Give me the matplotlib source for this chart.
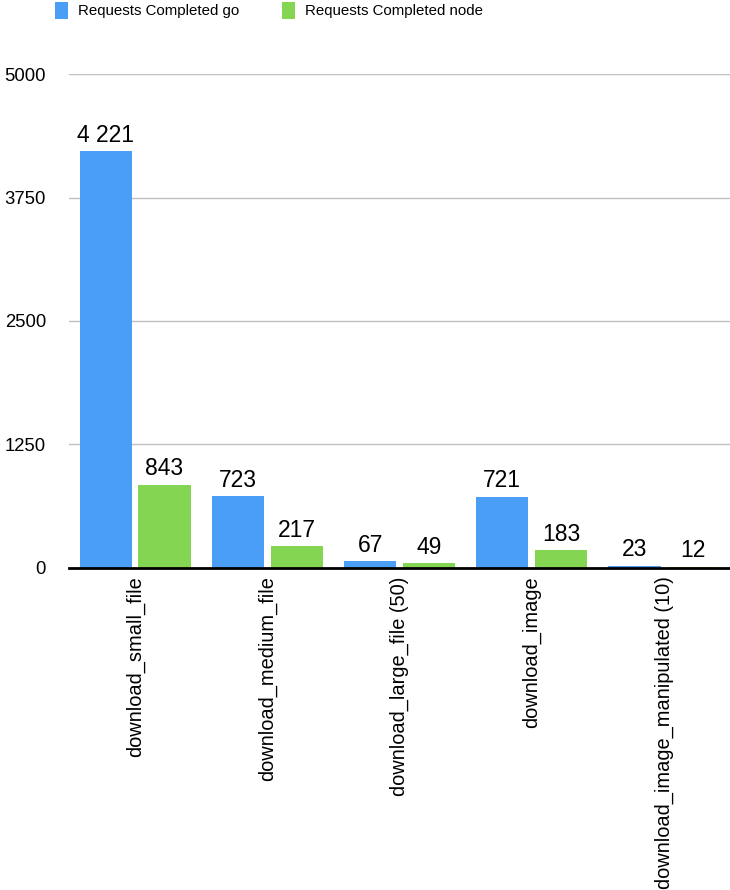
import matplotlib.pyplot as plt
import numpy as np

plt.rcParams["font.family"] = ["Liberation Sans", "DejaVu Sans"]

categories = ["download_small_file", "download_medium_file", "download_large_file (50)",
              "download_image", "download_image_manipulated (10)"]
go_values = [4221, 723, 67, 721, 23]
node_values = [843, 217, 49, 183, 12]
yticks = [0, 1250, 2500, 3750, 5000]

blue = "#4A9EF5"
green = "#84D551"

fig = plt.figure(figsize=(7.3, 8.9), dpi=100)
ax = fig.add_axes([0.0945, 0.362, 0.9055, 0.5547])

x = np.arange(len(categories))
w = 0.395
off = 0.222
b1 = ax.bar(x - off, go_values, w, color=blue, label="Requests Completed go")
b2 = ax.bar(x + off, node_values, w, color=green, label="Requests Completed node")

for bars, vals in [(b1, go_values), (b2, node_values)]:
    for r, v in zip(bars, vals):
        txt = f"{v:,}".replace(",", " ")
        ax.annotate(txt, (r.get_x() + r.get_width() / 2, v), xytext=(0, 3),
                    textcoords="offset points", ha="center", va="bottom", fontsize=16.5)

ax.set_xlim(-0.5, len(categories) - 0.5)
ax.set_ylim(0, 5000)
ax.set_yticks(yticks)
ax.set_yticklabels([str(t) for t in yticks], fontsize=13.3)
ax.set_xticks(x)
ax.set_xticklabels(categories, rotation=90, fontsize=14.4, va="top")
ax.tick_params(axis="y", length=0, pad=16.5)
ax.tick_params(axis="x", length=0, pad=6)
ax.grid(axis="y", color="#c0c0c0", linewidth=1)
ax.set_axisbelow(True)
for s in ["top", "right", "left"]:
    ax.spines[s].set_visible(False)
ax.spines["bottom"].set_linewidth(2)
ax.spines["bottom"].set_color("black")

fig.legend(loc="upper left", bbox_to_anchor=(0.0753, 0.998), ncol=2, frameon=False,
           fontsize=10.8, handlelength=0.88, handleheight=1.35, columnspacing=2.85,
           handletextpad=0.65, borderpad=0, borderaxespad=0)

fig.savefig("out.png", dpi=100)
